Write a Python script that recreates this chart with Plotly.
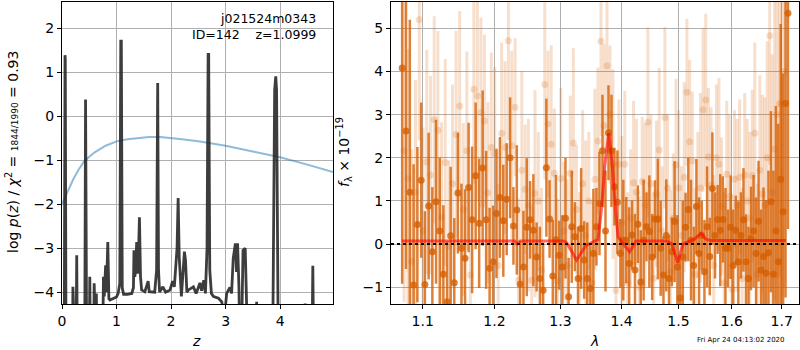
import plotly.graph_objects as go

W, H = 800, 350
FONT = "DejaVu Sans"

# ---------------- left panel: p(z) ----------------
z_grid = [0.000, 0.040, 0.055, 0.060, 0.075, 0.190, 0.200, 0.215, 0.255, 0.270,
          0.285, 0.415, 0.432, 0.437, 0.455, 0.495, 0.510, 0.525, 0.575, 0.590,
          0.605, 0.630, 0.650, 0.740, 0.760, 0.775, 0.800, 0.815, 0.840, 0.860,
          0.880, 0.950, 1.000, 1.030, 1.060, 1.078, 1.088, 1.105, 1.130, 1.200,
          1.280, 1.310, 1.320, 1.335, 1.350, 1.370, 1.385, 1.400, 1.420, 1.440,
          1.460, 1.520, 1.580, 1.600, 1.700, 1.735, 1.745, 1.755, 1.770, 1.790,
          1.850, 1.900, 1.980, 2.030, 2.060, 2.110, 2.130, 2.150, 2.190, 2.230,
          2.245, 2.265, 2.290, 2.320, 2.410, 2.460, 2.530, 2.560, 2.600, 2.630,
          2.660, 2.680, 2.690, 2.710, 2.740, 2.780, 2.870, 2.930, 2.965, 3.000,
          3.020, 3.080, 3.110, 3.140, 3.180, 3.200, 3.220, 3.245, 3.270, 3.300,
          3.320, 3.360, 3.390, 3.420, 3.550, 3.570, 3.590, 3.860, 3.900, 3.920,
          3.935, 3.970, 4.440, 4.460, 4.480, 4.580, 4.600, 4.620, 4.970]
log_pz = [-6.0, -6.0, 1.39, 1.30, -6.0, -6.0, -3.88, -6.0, -6.0, -3.16,
          -6.0, -6.0, 0.38, 0.30, -6.0, -6.0, -3.65, -6.0, -6.0, -3.80,
          -4.5, -4.03, -6.0, -6.0, -3.65, -4.10, -3.39, -4.00, -2.86, -4.15,
          -4.18, -4.14, -4.11, -4.03, -3.80, 1.71, 1.71, -3.90, -4.05, -4.05,
          -4.03, -3.90, -3.05, -3.65, -3.50, -2.86, -3.58, -3.30, -2.30, -3.65,
          -3.95, -3.99, -3.75, -3.99, -4.00, -3.50, 0.76, 0.76, -3.50, -4.00,
          -3.88, -4.00, -3.95, -3.75, -3.88, -3.00, -1.86, -3.20, -4.10, -3.50,
          -3.08, -3.27, -4.00, -3.95, -3.88, -4.03, -3.79, -3.97, -3.73, -4.03,
          -3.00, 1.41, 1.41, -3.50, -4.03, -4.10, -4.14, -4.22, -4.50, -4.30,
          -4.03, -3.89, -4.03, -3.23, -2.89, -3.54, -2.89, -3.88, -6.0, -4.5,
          -3.05, -3.00, -4.00, -6.0, -6.0, -4.22, -6.0, -6.0, 0.60, 0.91,
          0.60, -6.0, -6.0, -4.26, -6.0, -6.0, -3.40, -6.0, -6.0]

z_prior = [0.0, 0.1, 0.2, 0.3, 0.4, 0.5, 0.6, 0.8, 1.0, 1.2, 1.4, 1.6, 1.8,
           2.0, 2.2, 2.5, 2.8, 3.0, 3.5, 4.0, 4.5, 4.97]
log_prior = [-2.0, -1.72, -1.45, -1.22, -1.04, -0.92, -0.82, -0.67, -0.57, -0.52,
             -0.49, -0.47, -0.47, -0.49, -0.52, -0.57, -0.63, -0.67, -0.80, -0.93,
             -1.10, -1.27]

# ---------------- right panel: spectrum ----------------
lam_dark = [1.073, 1.078, 1.083, 1.088, 1.093, 1.098, 1.103, 1.108, 1.113, 1.118,
            1.123, 1.128, 1.133, 1.138, 1.143, 1.148, 1.153, 1.158, 1.163, 1.168,
            1.173, 1.178, 1.183, 1.188, 1.193, 1.198, 1.203, 1.208, 1.213, 1.218,
            1.223, 1.228, 1.233, 1.238, 1.243, 1.248, 1.253, 1.258, 1.263, 1.268,
            1.273, 1.278, 1.283, 1.288, 1.293, 1.298, 1.303, 1.308, 1.313, 1.318,
            1.323, 1.328, 1.333, 1.338, 1.343, 1.348, 1.353, 1.358, 1.363, 1.368,
            1.373, 1.378, 1.383, 1.388, 1.393, 1.398, 1.403, 1.408, 1.413, 1.418,
            1.423, 1.428, 1.433, 1.438, 1.443, 1.448, 1.453, 1.458, 1.463, 1.468,
            1.473, 1.478, 1.483, 1.488, 1.493, 1.498, 1.503, 1.508, 1.513, 1.518,
            1.523, 1.528, 1.533, 1.538, 1.543, 1.548, 1.553, 1.558, 1.563, 1.568,
            1.573, 1.578, 1.583, 1.588, 1.593, 1.598, 1.603, 1.608, 1.613, 1.618,
            1.623, 1.628, 1.633, 1.638, 1.643, 1.648, 1.653, 1.658, 1.663, 1.668,
            1.673, 1.678, 1.683, 1.688, 1.693, 1.698, 1.703, 1.708, 1.713]
flux_dark = [4.08, 2.62, 1.2, -0.95, 0.45, 1.48, -0.94, 0.88, -0.18, 0.98,
             0.3, -0.7, -1.34, 0.19, -0.9, 1.18, -0.10, -0.33, 1.31, 0.56,
             1.58, 0.48, 1.76, 0.56, -0.56, -0.41, 0.71, 1.08, 0.54, 1.04,
             2.0, 0.42, 0.79, -0.93, -0.53, 0.39, 0.56, 0.32, -0.3, -0.8,
             -1.07, 1.77, 0.58, -0.74, 0.1, -0.26, -0.53, 0.6, -1.22, 0.40,
             0.17, -0.8, 0.36, -0.37, -0.8, -1.03, -0.22, 0.40, 0.94, 2.16,
             0.30, 2.58, 2.16, 1.33, 0.97, -0.22, 0.09, 0.09, -0.45, 0.21,
             -0.6, 0.46, -0.88, 0.09, 0.40, 0.29, -0.3, 0.58, 0.58, -0.10,
             -0.72, 0.2, -0.80, -0.18, 0.52, -0.53, -1.25, -0.3, 0.39, 0.80,
             0.09, -0.5, 0.87, -0.22, 0.2, -0.64, 0.4, -0.29, 1.29, 0.2,
             0.57, 0.32, 0.57, -0.10, -0.10, 0.39, -0.5, 0.32, -0.41, 0.2,
             0.56, -0.41, -0.8, 0.13, 0.3, -0.22, 0.53, -0.6, -0.29, -0.68,
             -0.2, 0.98, -0.70, 0.3, -0.41, 1.5, 0.75, 3.26, 5.35]
err_dark = [5.0, 3.2, 4.0, 2.8, 1.8, 1.8, 1.7, 1.7, 1.5, 1.9,
            1.7, 1.6, 1.4, 1.6, 1.5, 1.4, 1.5, 1.6, 1.5, 1.7,
            1.7, 1.5, 1.8, 1.6, 1.4, 1.3, 1.5, 1.4, 1.3, 1.3,
            1.4, 0.9, 1.5, 1.0, 1.3, 1.6, 0.9, 1.3, 0.8, 1.2,
            1.1, 1.6, 0.9, 1.3, 1.5, 0.8, 1.2, 1.4, 0.9, 1.3,
            0.8, 1.2, 1.4, 0.9, 1.3, 1.0, 1.5, 0.9, 1.2, 1.3,
            1.4, 1.1, 1.3, 0.9, 1.2, 0.8, 1.4, 1.0, 1.3, 0.8,
            1.3, 0.9, 1.2, 1.4, 0.8, 1.3, 1.0, 0.9, 1.4, 1.1,
            0.9, 1.3, 1.0, 0.8, 1.4, 1.2, 1.0, 1.3, 0.8, 1.2,
            1.4, 0.9, 1.1, 1.3, 0.8, 1.2, 1.4, 0.9, 1.3, 1.0,
            0.8, 1.3, 1.0, 1.4, 0.9, 1.2, 1.3, 0.8, 1.4, 1.0,
            1.2, 1.1, 1.2, 1.2, 1.3, 1.3, 1.4, 1.4, 1.6, 1.7,
            1.9, 2.1, 2.4, 2.9, 3.2, 3.6, 3.2, 4.5, 5.0]

lam_light = [1.0755, 1.0805, 1.0855, 1.0905, 1.0955, 1.1005, 1.1055, 1.1105, 1.1155, 1.1205,
             1.1255, 1.1305, 1.1355, 1.1405, 1.1455, 1.1505, 1.1555, 1.1605, 1.1655, 1.1705,
             1.1755, 1.1805, 1.1855, 1.1905, 1.1955, 1.2005, 1.2055, 1.2105, 1.2155, 1.2205,
             1.2255, 1.2305, 1.2355, 1.2405, 1.2455, 1.2505, 1.2555, 1.2605, 1.2655, 1.2705,
             1.2755, 1.2805, 1.2855, 1.2905, 1.2955, 1.3005, 1.3055, 1.3105, 1.3155, 1.3205,
             1.3255, 1.3305, 1.3355, 1.3405, 1.3455, 1.3505, 1.3555, 1.3605, 1.3655, 1.3705,
             1.3755, 1.3805, 1.3855, 1.3905, 1.3955, 1.4005, 1.4055, 1.4105, 1.4155, 1.4205,
             1.4255, 1.4305, 1.4355, 1.4405, 1.4455, 1.4505, 1.4555, 1.4605, 1.4655, 1.4705,
             1.4755, 1.4805, 1.4855, 1.4905, 1.4955, 1.5005, 1.5055, 1.5105, 1.5155, 1.5205,
             1.5255, 1.5305, 1.5355, 1.5405, 1.5455, 1.5505, 1.5555, 1.5605, 1.5655, 1.5705,
             1.5755, 1.5805, 1.5855, 1.5905, 1.5955, 1.6005, 1.6055, 1.6105, 1.6155, 1.6205,
             1.6255, 1.6305, 1.6355, 1.6405, 1.6455, 1.6505, 1.6555, 1.6605, 1.6655, 1.6705,
             1.6755, 1.6805, 1.6855, 1.6905, 1.6955, 1.7005, 1.7055]
flux_light = [2.16, 1.52, -0.4, 1.2, 5.2, 0.3, 1.9, 1.6, 2.88, 2.64,
              0.62, 1.89, -0.06, 1.4, 2.54, 3.2, 0.8, 2.16, -0.72, 3.59,
              3.43, 3.05, 2.85, 1.19, 2.24, 2.1, -0.5, 2.57, 2.24, 4.71,
              2.28, 3.17, -0.84, 1.71, 1.27, 0.9, -0.84, 1.17, 1.0, -0.6,
              3.7, 2.78, 2.31, 1.64, -0.85, 1.52, 0.3, -0.5, 1.64, 2.34,
              0.8, -0.8, 1.4, 0.2, 1.0, -0.9, 1.5, 2.39, 4.7, 2.74,
              4.13, 3.0, 1.85, -1.07, 1.85, 0.5, 1.85, -0.9, 0.6, 1.42,
              1.2, -1.0, 1.45, 0.9, 2.82, 1.4, -0.8, 1.16, 2.18, 0.3,
              2.93, 1.3, -0.65, 0.6, 1.83, 1.3, 0.2, 1.55, 3.52, 2.37,
              1.93, -0.7, 0.9, 1.3, 3.11, 3.34, 2.02, 1.37, -0.5, 2.0,
              1.85, 0.87, -0.9, 1.62, 1.1, -1.05, 1.5, 0.9, 1.55, -0.8,
              1.6, 1.0, 0.6, 1.58, 2.57, -0.7, 1.71, 1.16, 0.9, 2.0,
              4.83, 1.2, 2.2, 3.0, 3.25, 3.26, 4.0]
err_light = [3.5, 3.0, 2.6, 2.6, 2.8, 2.4, 2.6, 2.3, 2.4, 2.3,
             2.2, 2.4, 2.0, 2.3, 2.4, 2.2, 2.0, 2.3, 2.1, 2.2,
             2.4, 2.2, 2.0, 2.1, 2.2, 2.0, 1.9, 2.1, 2.0, 2.3,
             2.2, 1.6, 1.9, 2.3, 1.5, 2.0, 1.7, 2.4, 1.6, 1.9,
             2.2, 1.7, 2.3, 1.5, 1.9, 2.1, 1.6, 2.0, 1.8, 2.2,
             1.5, 2.0, 1.7, 2.2, 1.6, 1.9, 2.1, 1.7, 2.2, 1.9,
             2.0, 1.6, 2.2, 1.8, 1.5, 2.0, 1.7, 2.1, 1.6, 1.9,
             1.7, 2.1, 1.5, 1.9, 2.2, 1.6, 2.0, 1.7, 1.9, 1.5,
             2.1, 1.7, 1.9, 1.5, 2.0, 1.8, 1.6, 2.2, 1.7, 1.9,
             1.6, 2.0, 1.7, 2.2, 1.9, 2.0, 1.6, 1.8, 2.1, 1.7,
             2.0, 1.6, 2.1, 1.7, 1.9, 2.2, 1.6, 2.0, 1.8, 2.1,
             1.9, 1.9, 2.0, 2.0, 2.1, 2.1, 2.2, 2.3, 2.5, 2.7,
             3.0, 3.2, 3.5, 3.8, 4.0, 4.5, 5.0]

lam_model = [1.0727, 1.2300, 1.2335, 1.2380, 1.3050, 1.3100, 1.3257, 1.3400, 1.3550,
             1.3605, 1.3662, 1.3717, 1.3784, 1.3846, 1.3902, 1.3941, 1.4000, 1.4138,
             1.4250, 1.4800, 1.4880, 1.4985, 1.5080, 1.5200, 1.5300, 1.5418, 1.5500,
             1.5600, 1.7085]
flux_model = [0.07, 0.07, 0.00, 0.07, 0.07, 0.03, -0.37, -0.05, 0.07,
              0.10, 0.79, 1.79, 2.57, 1.79, 0.72, 0.17, 0.05, -0.18,
              0.07, 0.07, 0.00, -0.43, 0.00, 0.07, 0.12, 0.25, 0.12,
              0.08, 0.08]

# ticks / labels
xt_left = [0, 1, 2, 3, 4]
yt_left = [-4, -3, -2, -1, 0, 1, 2]
xt_right = [1.1, 1.2, 1.3, 1.4, 1.5, 1.6, 1.7]
xt_right_text = ["1.1", "1.2", "1.3", "1.4", "1.5", "1.6", "1.7"]
yt_right = [-1, 0, 1, 2, 3, 4, 5]

obj_name = "j021524m0343"
obj_id_line = "ID=142    z=1.0999"
timestamp = "Fri Apr 24 04:13:02 2020"

DARK = "rgba(213,94,0,0.78)"
LIGHT = "rgba(213,94,0,0.2)"


def px(x):
    return x / W


def py(y):
    return 1 - y / H


fig = go.Figure()

fig.add_trace(go.Scatter(x=z_prior, y=log_prior, mode="lines",
                         line=dict(color="rgba(31,119,180,0.5)", width=2),
                         xaxis="x", yaxis="y", showlegend=False))
fig.add_trace(go.Scatter(x=z_grid, y=log_pz, mode="lines",
                         line=dict(color="rgba(40,40,40,0.9)", width=2.8),
                         xaxis="x", yaxis="y", showlegend=False))

fig.add_trace(go.Scatter(x=lam_light, y=flux_light, mode="markers",
                         marker=dict(color=LIGHT, size=7, line=dict(width=0)),
                         error_y=dict(type="data", array=err_light, color=LIGHT,
                                      thickness=3, width=0),
                         xaxis="x2", yaxis="y2", showlegend=False))
fig.add_trace(go.Scatter(x=lam_dark, y=flux_dark, mode="markers",
                         marker=dict(color=DARK, size=7, line=dict(width=0)),
                         error_y=dict(type="data", array=err_dark, color=DARK,
                                      thickness=2.5, width=0),
                         xaxis="x2", yaxis="y2", showlegend=False))
fig.add_trace(go.Scatter(x=lam_model, y=flux_model, mode="lines",
                         line=dict(color="rgba(255,0,0,0.6)", width=3),
                         xaxis="x2", yaxis="y2", showlegend=False))

fig.add_shape(type="line", xref="x2 domain", x0=0, x1=1, yref="y2", y0=0, y1=0,
              line=dict(color="black", width=2, dash="dot"), layer="above")

axis_common = dict(showline=True, linecolor="black", linewidth=1, mirror=True,
                   ticks="outside", ticklen=4, tickwidth=1, tickcolor="black",
                   showgrid=True, gridcolor="#b0b0b0", gridwidth=1, zeroline=False,
                   automargin=False,
                   tickfont=dict(family=FONT, size=14, color="black"))

fig.update_layout(
    width=W, height=H, autosize=False,
    margin=dict(l=0, r=0, t=0, b=0, pad=0, autoexpand=False),
    paper_bgcolor="white", plot_bgcolor="white",
    font=dict(family=FONT, size=14, color="black"),
    xaxis=dict(domain=[px(62), px(333)], range=[0, 4.97], tickvals=xt_left,
               anchor="y", **axis_common),
    yaxis=dict(domain=[py(304), py(2)], range=[-4.27, 2.6], tickvals=yt_left,
               anchor="x", **axis_common),
    xaxis2=dict(domain=[px(391), px(799)], type="log", range=[0.02472, 0.23957],
                tickvals=xt_right, ticktext=xt_right_text, anchor="y2", **axis_common),
    yaxis2=dict(domain=[py(304), py(2)], range=[-1.39, 5.61], tickvals=yt_right,
                anchor="x2", **axis_common),
)

annos = [
    dict(text="<i>z</i>", x=px(196), y=py(341)),
    dict(text="<i>λ</i>", x=px(594), y=py(341)),
    dict(text="log <i>p</i>(<i>z</i>) / <i>χ</i><sup>2</sup> = "
              "<span style='font-size:9px'>1844/1990</span> = 0.93",
         x=px(12), y=py(152), textangle=-90),
    dict(text="<i>f</i><sub>λ</sub> × 10<sup>−19</sup>", x=px(344), y=py(152),
         textangle=-90),
]
for a in annos:
    fig.add_annotation(xref="paper", yref="paper", showarrow=False,
                       xanchor="center", yanchor="middle",
                       font=dict(family=FONT, size=14, color="black"), **a)

fig.add_annotation(xref="paper", yref="paper", showarrow=False, text=obj_name,
                   x=px(318), y=py(19), xanchor="right", yanchor="middle",
                   font=dict(family=FONT, size=12.5, color="black"))
fig.add_annotation(xref="paper", yref="paper", showarrow=False, text=obj_id_line,
                   x=px(318), y=py(34), xanchor="right", yanchor="middle",
                   font=dict(family=FONT, size=12.5, color="black"))
fig.add_annotation(xref="paper", yref="paper", showarrow=False, text=timestamp,
                   x=px(787), y=py(340), xanchor="right", yanchor="middle",
                   font=dict(family=FONT, size=7, color="black"))

fig.write_html(
    "out.html",
    config={"responsive": False, "displayModeBar": False},
    post_script="document.body.style.margin='0';document.body.style.padding='0';"
                "document.body.style.overflow='hidden';",
)
